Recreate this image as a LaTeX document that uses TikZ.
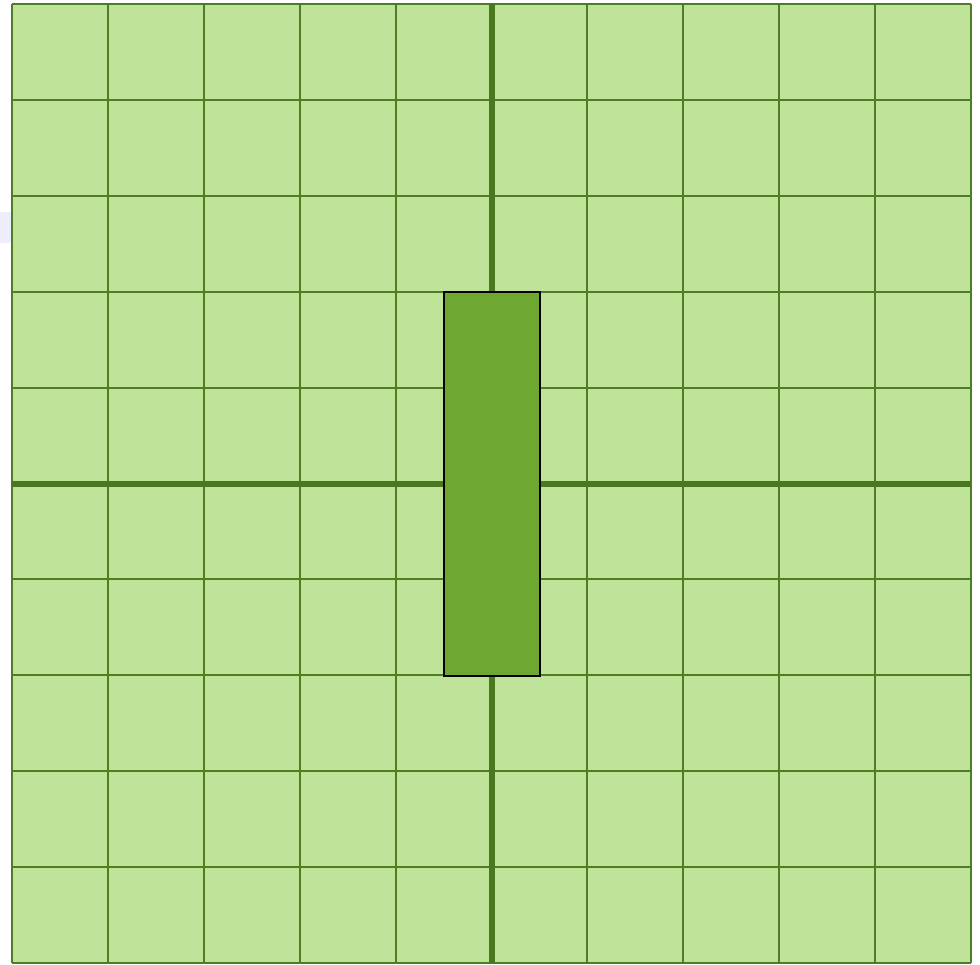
\documentclass[tikz,border=0pt]{standalone}
\usepackage{tikz}

\definecolor{fieldgreen}{HTML}{C0E39A}
\definecolor{gridgreen}{HTML}{4E7D24}
\definecolor{axisgreen}{HTML}{4A781E}
\definecolor{blockgreen}{HTML}{6FA830}
\definecolor{paleblue}{HTML}{EEEEFC}

\begin{document}
\begin{tikzpicture}[x=1pt, y=-1pt]
\tikzset{grid line/.style={draw=gridgreen, line width=2pt}}
\tikzset{axis line/.style={draw=axisgreen, line width=6pt}}
\tikzset{block/.style={draw=black, line width=2pt, fill=blockgreen,
  minimum width=96pt, minimum height=384pt, inner sep=0pt}}
\useasboundingbox (0,0) rectangle (980,964);
%\fill[white] (0,0) rectangle (980,964);
\fill[paleblue] (0,212) rectangle (12,243);
\fill[fieldgreen] (12,4) rectangle (971,963);
\foreach \i in {0,...,10}
  {\draw[grid line] (12+95.9*\i,4) -- (12+95.9*\i,963);
   \draw[grid line] (12,4+95.9*\i) -- (971,4+95.9*\i);}
\draw[axis line] (491.5,4) -- (491.5,963);
\draw[axis line] (12,484) -- (971,484);
\node[block] (stem) at (492,484) {};
\end{tikzpicture}
\end{document}
